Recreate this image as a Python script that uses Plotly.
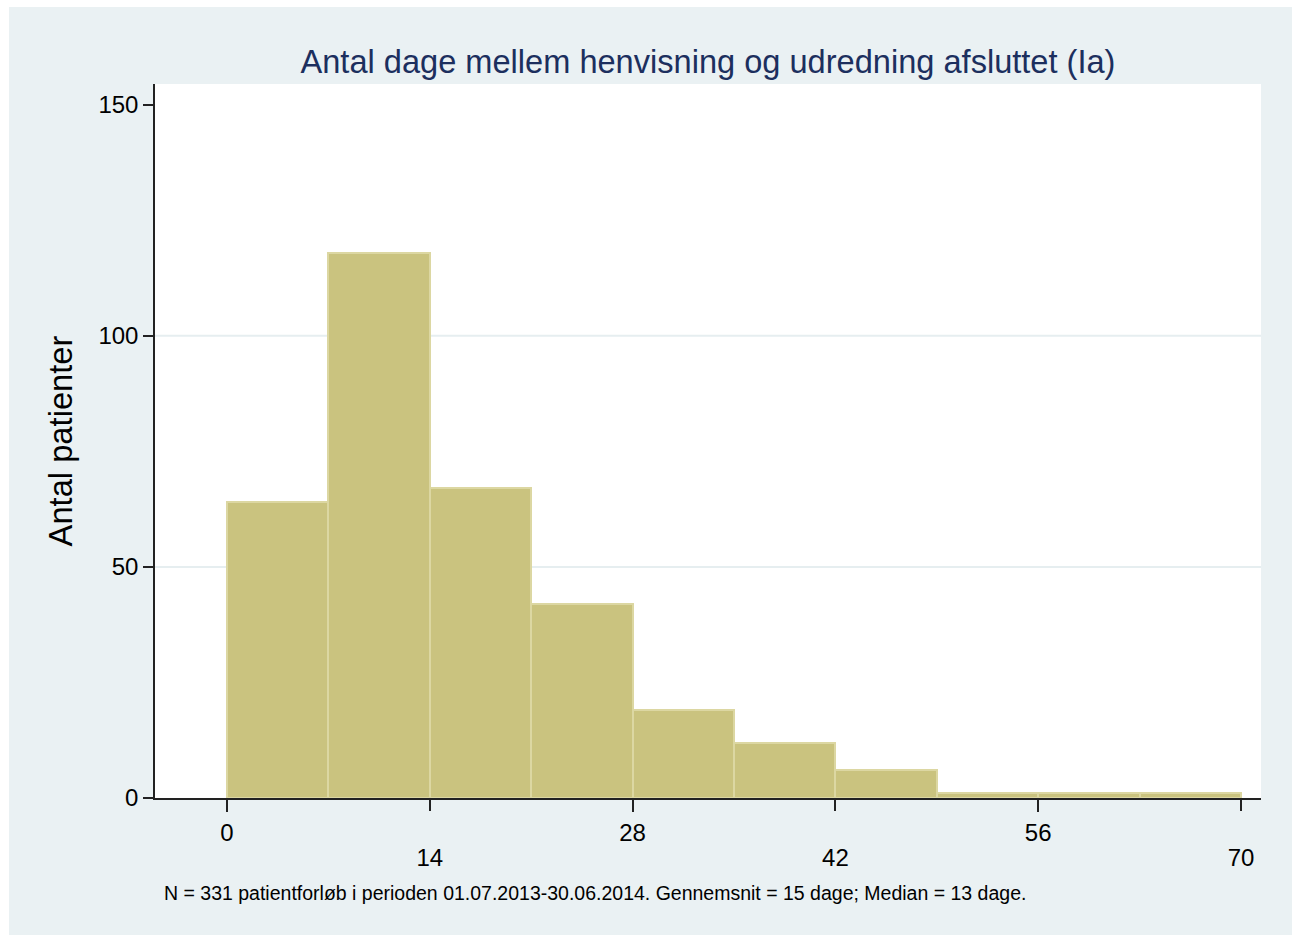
import plotly.graph_objects as go

# Data
bin_edges = [0, 7, 14, 21, 28, 35, 42, 49, 56, 63, 70]
counts = [64, 118, 67, 42, 19, 12, 6, 1, 1, 1]
x_ticks_row1 = [0, 28, 56]
x_ticks_row2 = [14, 42, 70]
y_tickvals = [0, 50, 100, 150]
grid_vals = [50, 100]
title_text = "Antal dage mellem henvisning og udredning afsluttet (Ia)"
ytitle_text = "Antal patienter"
note_text = ("N = 331 patientforløb i perioden 01.07.2013-30.06.2014. "
             "Gennemsnit = 15 dage; Median = 13 dage.")

centers = [(a + b) / 2 for a, b in zip(bin_edges[:-1], bin_edges[1:])]
widths = [b - a for a, b in zip(bin_edges[:-1], bin_edges[1:])]

W, H = 1292, 935
L, R, T, B = 155, 31, 84, 137
pw, ph = W - L - R, H - T - B

def px_x(p):
    return (p - L) / pw

def px_y(p):
    return (H - B - p) / ph

FONT = "Liberation Sans, Arial, Helvetica, sans-serif"
XRANGE = [-4.97, 71.38]

fig = go.Figure()
fig.add_trace(go.Bar(
    x=centers, y=counts, width=widths,
    marker=dict(color="#cac37f", line=dict(color="#dcd7a2", width=2)),
    hoverinfo="x+y",
))
# helper trace so the second (staggered label) x axis is drawn
fig.add_trace(go.Scatter(x=[XRANGE[0]], y=[0], xaxis="x2", mode="markers",
                         marker=dict(opacity=0), hoverinfo="skip", showlegend=False))

shapes = []
for g in grid_vals:
    shapes.append(dict(type="line", xref="paper", yref="y", x0=0, x1=1, y0=g, y1=g,
                       line=dict(color="#e6eef0", width=2), layer="below"))
# white page border strips
shapes.append(dict(type="rect", xref="paper", yref="paper",
                   x0=px_x(-5), x1=px_x(W + 5), y0=px_y(7), y1=px_y(-5),
                   fillcolor="white", line=dict(width=0), layer="below"))
shapes.append(dict(type="rect", xref="paper", yref="paper",
                   x0=px_x(-5), x1=px_x(9), y0=px_y(H + 5), y1=px_y(-5),
                   fillcolor="white", line=dict(width=0), layer="below"))

axis_common = dict(range=XRANGE, showgrid=False, zeroline=False,
                   ticks="outside", ticklen=12, tickwidth=1.5, tickcolor="#222",
                   tickfont=dict(size=24), fixedrange=True)

fig.update_layout(
    width=W, height=H,
    margin=dict(l=L, r=R, t=T, b=B, pad=0),
    paper_bgcolor="#eaf1f3",
    plot_bgcolor="white",
    font=dict(family=FONT, color="black"),
    showlegend=False,
    bargap=0,
    title=dict(text=title_text, x=px_x(708), xref="paper", xanchor="center",
               y=1 - 62 / H, yanchor="middle",
               font=dict(size=32.6, color="#1c2f5e", family=FONT)),
    xaxis=dict(tickvals=x_ticks_row1, showline=True, linecolor="#222",
               linewidth=1.5, **axis_common),
    xaxis2=dict(tickvals=x_ticks_row2, overlaying="x", side="bottom",
                anchor="y", showline=False, ticklabelstandoff=26, **axis_common),
    yaxis=dict(range=[0, 154.5], tickvals=y_tickvals, showgrid=False,
               zeroline=False, showline=True, linecolor="#222", linewidth=1.5,
               ticks="outside", ticklen=10, tickwidth=1.5, tickcolor="#222",
               tickfont=dict(size=24), fixedrange=True,
               title=dict(text=ytitle_text, font=dict(size=32.7), standoff=16)),
    shapes=shapes,
    annotations=[dict(text=note_text, xref="paper", yref="paper",
                      x=px_x(162), y=px_y(893), xanchor="left", yanchor="middle",
                      showarrow=False, font=dict(size=19.5, color="black"))],
)

fig.write_html("out.html")
